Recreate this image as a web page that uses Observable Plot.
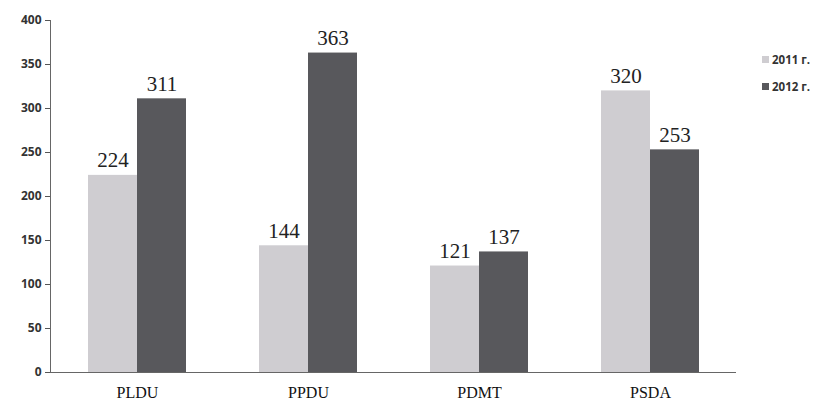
<!DOCTYPE html>
<html>
<head>
<meta charset="utf-8">
<script src="https://cdn.jsdelivr.net/npm/d3@7"></script>
<script src="https://cdn.jsdelivr.net/npm/@observablehq/plot@0.6"></script>
<style>
  body { margin: 0; background: #fff; }
  #wrap { position: relative; width: 823px; height: 405px; }
  #legend { position: absolute; left: 762px; top: 46px; font-family: "Open Sans", "DejaVu Sans", sans-serif; font-weight: bold; font-size: 11.5px; color: #333; }
  #legend div { display: flex; align-items: center; height: 27px; }
  #legend span.sw { display: inline-block; width: 7px; height: 7px; margin-right: 3px; }
</style>
</head>
<body>
<div id="wrap"></div>
<script>
const categories = ["PLDU", "PPDU", "PDMT", "PSDA"];
const series = ["2011 г.", "2012 г."];
const values2011 = [224, 144, 121, 320];
const values2012 = [311, 363, 137, 253];
const yTicks = [0, 50, 100, 150, 200, 250, 300, 350, 400];
const colors = ["#cfcdd1", "#58585c"];

const d2011 = categories.map((c, i) => ({cat: c, value: values2011[i]}));
const d2012 = categories.map((c, i) => ({cat: c, value: values2012[i]}));

const chart = Plot.plot({
  width: 823,
  height: 405,
  marginLeft: 50,
  marginRight: 87,
  marginTop: 20,
  marginBottom: 33,
  x: {domain: categories, paddingInner: 0.427, paddingOuter: 0.2135, label: null},
  y: {domain: [0, 400], ticks: yTicks, label: null},
  marks: [
    Plot.barY(d2011, {x: "cat", y: "value", fill: colors[0], insetRight: 49}),
    Plot.barY(d2012, {x: "cat", y: "value", fill: colors[1], insetLeft: 49}),
    Plot.text(d2011, {x: "cat", y: "value", text: d => String(d.value), dx: -24.5, dy: -8, lineAnchor: "bottom", fontFamily: "Liberation Serif, Times New Roman, serif", fontSize: 21, fill: "#222"}),
    Plot.text(d2012, {x: "cat", y: "value", text: d => String(d.value), dx: 24.5, dy: -8, lineAnchor: "bottom", fontFamily: "Liberation Serif, Times New Roman, serif", fontSize: 21, fill: "#222"}),
    Plot.axisY({ticks: yTicks, tickSize: 5, tickPadding: 4, fontSize: 12, fontWeight: "bold", fontFamily: "Open Sans, DejaVu Sans, sans-serif", fill: "#333", stroke: "#555", label: null}),
    Plot.axisX({tickSize: 0, tickPadding: 14, fontSize: 16, fontFamily: "Liberation Serif, Times New Roman, serif", fill: "#111", label: null}),
    Plot.frame({anchor: "left", stroke: "#666"}),
    Plot.ruleY([0], {stroke: "#666"})
  ]
});
document.getElementById("wrap").appendChild(chart);

const legend = document.createElement("div");
legend.id = "legend";
series.forEach((s, i) => {
  const row = document.createElement("div");
  row.innerHTML = `<span class="sw" style="background:${colors[i]}"></span>${s}`;
  legend.appendChild(row);
});
document.getElementById("wrap").appendChild(legend);
</script>
</body>
</html>
